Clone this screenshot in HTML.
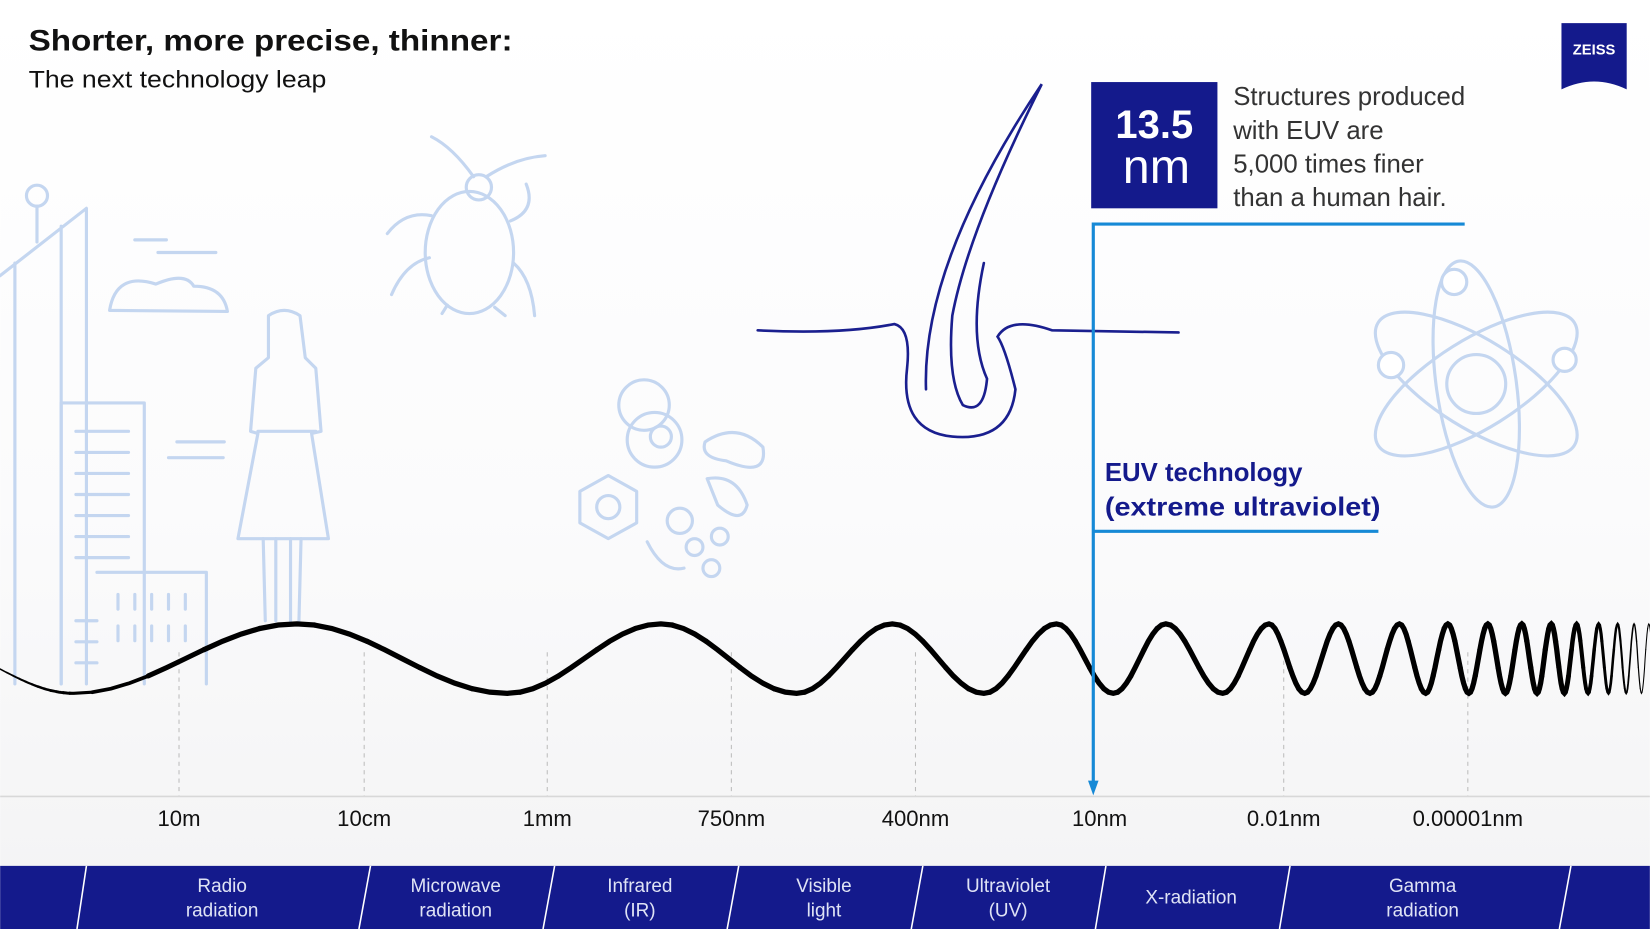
<!DOCTYPE html>
<html><head><meta charset="utf-8"><style>
html,body{margin:0;padding:0;background:#fff;}
svg{display:block;}
text{font-family:"Liberation Sans",sans-serif;}
</style></head><body>
<svg id="s" width="1650" height="929" viewBox="0 0 1568 883" xmlns="http://www.w3.org/2000/svg">
<defs>
<linearGradient id="bg" x1="0" y1="0" x2="0" y2="1">
<stop offset="0" stop-color="#ffffff"/><stop offset="0.55" stop-color="#fbfbfc"/><stop offset="1" stop-color="#f3f3f4"/>
</linearGradient>
</defs>
<rect width="1568" height="883" fill="url(#bg)"/>
<g fill="none" stroke="#c4d6f0" stroke-width="3" stroke-linecap="round" stroke-linejoin="round">
 <path d="M0 262 L82 198 L82 650 M14 250 L14 650 M58 215 L58 650"/>
 <circle cx="35" cy="186" r="10"/><path d="M35 196 L35 230"/>
 <path d="M58 383 L137 383 L137 650 M58 383 L58 650"/>
 <path d="M72 410h50M72 430h50M72 450h50M72 470h50M72 490h50M72 510h50M72 530h50M72 590h20M72 610h20M72 630h20"/>
 <path d="M92 544 L196 544 L196 650"/>
 <path d="M112 565v14M128 565v14M144 565v14M160 565v14M176 565v14M112 595v14M128 595v14M144 595v14M160 595v14M176 595v14"/>
 <path d="M104 295 Q110 258 148 270 Q176 258 184 272 Q212 272 216 296 Z"/>
 <path d="M128 228h30M150 240h55M168 420h45M160 435h52"/>
 <path d="M255 300 Q270 290 285 300 L290 340 L300 350 L305 410 L296 412 L312 512 L226 512 L245 412 L238 410 L243 350 L255 340 Z"/>
 <path d="M250 512 L252 590 M262 512 L262 590 M276 512 L276 590 M286 512 L284 590 M245 410 L300 410"/>
 <ellipse cx="446" cy="240" rx="42" ry="58"/>
 <circle cx="455" cy="178" r="12"/>
 <path d="M450 168 Q430 140 410 130 M462 168 Q490 150 518 148 M410 205 Q385 200 368 222 M485 210 Q510 200 500 175 M408 245 Q385 250 372 280 M488 250 Q505 265 508 300 M425 290 L420 298 M470 292 L480 300"/>
 <circle cx="612" cy="385" r="24"/><circle cx="622" cy="418" r="26"/><circle cx="628" cy="415" r="10"/>
 <path d="M578 452 L605 467 L605 497 L578 512 L551 497 L551 467 Z"/><circle cx="578" cy="482" r="11"/>
 <path d="M670 420 Q700 400 725 425 Q730 455 690 438 Q665 435 670 420Z"/>
 <path d="M672 455 Q700 450 710 480 Q705 500 682 480 Z"/>
 <circle cx="646" cy="495" r="12"/><circle cx="660" cy="520" r="8"/><circle cx="684" cy="510" r="8"/><circle cx="676" cy="540" r="8"/>
 <path d="M615 515 Q630 545 650 540"/>
 <circle cx="1403" cy="365" r="28"/>
 <ellipse cx="1403" cy="365" rx="38" ry="118" transform="rotate(-8 1403 365)"/>
 <ellipse cx="1403" cy="365" rx="110" ry="42" transform="rotate(32 1403 365)"/>
 <ellipse cx="1403" cy="365" rx="110" ry="42" transform="rotate(-32 1403 365)"/>
 <circle cx="1382" cy="268" r="12" fill="#fff"/><circle cx="1322" cy="347" r="12" fill="#fff"/><circle cx="1487" cy="342" r="11" fill="#fff"/>
</g>
<g fill="none" stroke="#1a1f8f" stroke-width="2.5" stroke-linecap="round">
 <path d="M720 314 Q800 318 850 308 Q866 312 862 350 Q855 410 905 415 Q960 420 965 370 Q955 330 948 320 Q960 300 1000 314 L1120 316"/>
 <path d="M880 370 Q876 250 990 80 Q920 220 905 300 Q900 360 915 385 Q935 395 938 360 Q920 320 935 250"/>
</g>
<g stroke="#bdbdbd" stroke-width="1" stroke-dasharray="4 4">
 <path d="M170 620V757M346 620V757M520 620V757M695 620V757M870 620V757M1220 620V757M1395 620V757"/>
</g>
<line x1="0" y1="757" x2="1568" y2="757" stroke="#d8d8d8" stroke-width="1.5"/>
<g id="wave" fill="none" stroke="#000" stroke-linecap="round"></g>
<g stroke="#1689d6" stroke-width="3" fill="none">
 <path d="M1392 213 H1039 V748"/>
 <path d="M1310 505 H1039"/>
</g>
<path d="M1034 742 L1044 742 L1039 756 Z" fill="#1689d6"/>
<text x="27" y="48" font-size="28" font-weight="bold" fill="#111" textLength="460" lengthAdjust="spacingAndGlyphs">Shorter, more precise, thinner:</text>
<text x="27" y="83" font-size="23" fill="#111" textLength="283" lengthAdjust="spacingAndGlyphs">The next technology leap</text>
<rect x="1037" y="78" width="120" height="120" fill="#141a8c"/>
<text x="1097" y="131" font-size="38" font-weight="bold" fill="#fff" text-anchor="middle">13.5</text>
<text x="1099" y="174" font-size="46" fill="#fff" text-anchor="middle">nm</text>
<g font-size="24.5" fill="#333">
<text x="1172" y="100">Structures produced</text>
<text x="1172" y="132">with EUV are</text>
<text x="1172" y="164">5,000 times finer</text>
<text x="1172" y="196">than a human hair.</text>
</g>
<text x="1050" y="457" font-size="24.5" font-weight="bold" fill="#141a8c">EUV technology</text>
<text x="1050" y="490" font-size="24.5" font-weight="bold" fill="#141a8c" textLength="262" lengthAdjust="spacingAndGlyphs">(extreme ultraviolet)</text>
<path d="M1484 22 H1546 V85 Q1515 70 1484 85 Z" fill="#141a8c"/>
<text x="1515" y="52" font-size="14" font-weight="bold" fill="#fff" text-anchor="middle" font-family="Liberation Serif,serif">ZEISS</text>
<g font-size="21" fill="#111" text-anchor="middle">
<text x="170" y="785">10m</text><text x="346" y="785">10cm</text><text x="520" y="785">1mm</text><text x="695" y="785">750nm</text><text x="870" y="785">400nm</text><text x="1045" y="785">10nm</text><text x="1220" y="785">0.01nm</text><text x="1395" y="785">0.00001nm</text>
</g>
<rect x="0" y="823" width="1568" height="60" fill="#141a8c"/>
<g stroke="#fff" stroke-width="1.5">
<path d="M82 823 L73 883M352 823 L341 883M527 823 L516 883M702 823 L691 883M877 823 L866 883M1051 823 L1041 883M1226 823 L1216 883M1493 823 L1482 883"/>
</g>
<g font-size="18" fill="#dfe3f5" text-anchor="middle">
<text x="211" y="848">Radio</text><text x="211" y="871">radiation</text>
<text x="433" y="848">Microwave</text><text x="433" y="871">radiation</text>
<text x="608" y="848">Infrared</text><text x="608" y="871">(IR)</text>
<text x="783" y="848">Visible</text><text x="783" y="871">light</text>
<text x="958" y="848">Ultraviolet</text><text x="958" y="871">(UV)</text>
<text x="1132" y="859">X-radiation</text>
<text x="1352" y="848">Gamma</text><text x="1352" y="871">radiation</text>
</g>
</svg>
<script>
var ex=[70,282,482,628,757,848,935,1004,1058,1108,1162,1206,1240,1272,1302,1330,1355,1376,1396,1414];
var x=1414,d=18;while(x<1575){d=Math.max(d*0.93,7);x+=d;ex.push(x);}
var c=626,A=33,g=document.getElementById('wave'),NS="http://www.w3.org/2000/svg";
function add(p,w){var e=document.createElementNS(NS,'path');e.setAttribute('d',p);e.setAttribute('stroke-width',w);g.appendChild(e);}
function wid(xx){if(xx<150)return 1.5+3.5*xx/150;if(xx>1480)return Math.max(1,5-4*(xx-1480)/80);return 5;}
// left rise, split into segments
var pts=[];for(var i=0;i<=70;i+=2){pts.push([i,636+(c+A-636)*Math.sin(i/70*Math.PI/2)]);}
for(var k=0;k<ex.length-1;k++){var a=ex[k],b=ex[k+1],s=(k%2==0)?1:-1;
 for(var t=1;t<=12;t++){var u=t/12;pts.push([a+(b-a)*u,c+s*A*Math.cos(Math.PI*u)]);}}
for(var j=0;j<pts.length-1;j+=3){var seg="M"+pts[j][0].toFixed(1)+" "+pts[j][1].toFixed(1);
 for(var m=j+1;m<=Math.min(j+3,pts.length-1);m++)seg+=" L"+pts[m][0].toFixed(1)+" "+pts[m][1].toFixed(1);
 add(seg,wid(pts[j][0]).toFixed(2));}
</script>
</body></html>
